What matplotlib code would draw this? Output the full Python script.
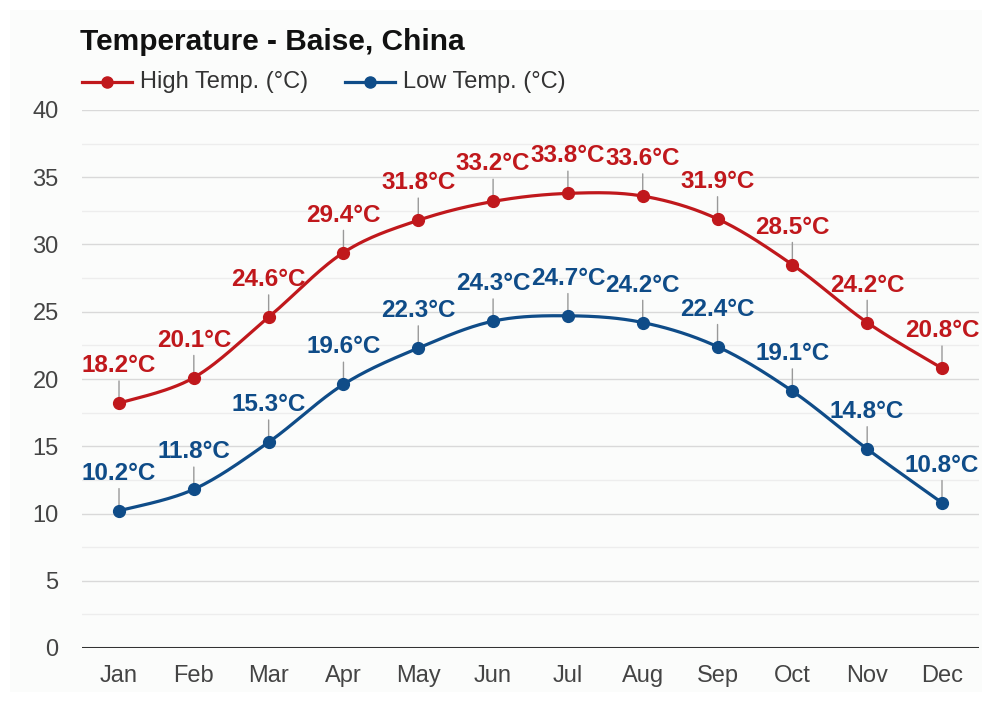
import numpy as np
import matplotlib
matplotlib.use("Agg")
import matplotlib.pyplot as plt
from matplotlib.lines import Line2D
from matplotlib.patches import Rectangle

plt.rcParams['font.family'] = ['Liberation Sans', 'DejaVu Sans']

months = ["Jan", "Feb", "Mar", "Apr", "May", "Jun",
          "Jul", "Aug", "Sep", "Oct", "Nov", "Dec"]
high_temp = [18.2, 20.1, 24.6, 29.4, 31.8, 33.2, 33.8, 33.6, 31.9, 28.5, 24.2, 20.8]
low_temp = [10.2, 11.8, 15.3, 19.6, 22.3, 24.3, 24.7, 24.2, 22.4, 19.1, 14.8, 10.8]
y_ticks = [0, 5, 10, 15, 20, 25, 30, 35, 40]

title = "Temperature - Baise, China"
high_name = "High Temp. (°C)"
low_name = "Low Temp. (°C)"

RED = "#c0181c"
BLUE = "#0f4c88"


def smooth(xs, ys, steps=30):
    """Catmull-Rom style cubic Bezier through every point."""
    xs = np.asarray(xs, float)
    ys = np.asarray(ys, float)
    n = len(xs)
    px = np.concatenate([[xs[0]], xs, [xs[-1]]])
    py = np.concatenate([[ys[0]], ys, [ys[-1]]])
    out_x, out_y = [], []
    t = np.linspace(0, 1, steps)
    for i in range(n - 1):
        p0 = np.array([px[i + 1], py[i + 1]])
        p3 = np.array([px[i + 2], py[i + 2]])
        p1 = p0 + (p3 - np.array([px[i], py[i]])) / 6.0
        p2 = p3 - (np.array([px[i + 3], py[i + 3]]) - p0) / 6.0
        b = ((1 - t) ** 3)[:, None] * p0 + (3 * (1 - t) ** 2 * t)[:, None] * p1 \
            + (3 * (1 - t) * t ** 2)[:, None] * p2 + (t ** 3)[:, None] * p3
        out_x.extend(b[:, 0])
        out_y.extend(b[:, 1])
    return np.array(out_x), np.array(out_y)


fig = plt.figure(figsize=(9.9, 7.02), dpi=100)
fig.patch.set_facecolor("white")
fig.add_artist(Rectangle((10 / 990, 10 / 702), 972 / 990, 682 / 702,
                         transform=fig.transFigure, facecolor="#fbfcfb",
                         edgecolor="none", zorder=-10))

ax = fig.add_axes([81.6 / 990, 54 / 702, 897.8 / 990, 538 / 702])
ax.set_facecolor("none")
x = np.arange(len(months))
ax.set_xlim(-0.5, len(months) - 0.5)
ax.set_ylim(0, 40)

# grid: major every 5, lighter minor every 2.5
for v in np.arange(2.5, 40, 5):
    ax.axhline(v, color="#ededed", lw=1, zorder=0)
for v in y_ticks[1:]:
    ax.axhline(v, color="#d9d9d9", lw=1, zorder=0)
ax.axhline(0, color="#333333", lw=2.2, zorder=1)

for s in ax.spines.values():
    s.set_visible(False)
ax.set_yticks(y_ticks)
ax.set_yticklabels([str(v) for v in y_ticks])
ax.set_xticks(x)
ax.set_xticklabels(months)
ax.tick_params(length=0, labelsize=17, colors="#444444")
ax.tick_params(axis="y", pad=16.5)
ax.tick_params(axis="x", pad=12)

for vals, col in ((high_temp, RED), (low_temp, BLUE)):
    sx, sy = smooth(x, vals)
    ax.plot(sx, sy, color=col, lw=2.3, zorder=3, solid_capstyle="round")
    ax.plot(x, vals, "o", color=col, ms=8.5, zorder=4)
    for xi, v in zip(x, vals):
        ax.annotate("", xy=(xi, v), xytext=(0, 16), textcoords="offset points",
                    arrowprops=dict(arrowstyle="-", color="#999999", lw=1,
                                    shrinkA=0, shrinkB=0), zorder=2)
        ax.annotate(f"{v}°C", xy=(xi, v), xytext=(0, 27),
                    textcoords="offset points", ha="center", va="center",
                    fontsize=17.5, fontweight="bold", color=col, zorder=5)

fig.text(80 / 990, 1 - 42 / 702, title, fontsize=21.5, fontweight="bold",
         color="#111111", ha="left", va="center")

# legend row
ly = 1 - 82 / 702
for x0, col, name in ((82, RED, high_name), (345, BLUE, low_name)):
    fig.add_artist(Line2D([x0 / 990, (x0 + 50) / 990], [ly, ly],
                          transform=fig.transFigure, color=col, lw=2.3))
    fig.add_artist(Line2D([(x0 + 25) / 990], [ly], transform=fig.transFigure,
                          marker="o", ms=8, color=col))
    fig.text((x0 + 58) / 990, ly, name, fontsize=17, color="#333333",
             ha="left", va="center")

fig.savefig("out.png", dpi=100)
